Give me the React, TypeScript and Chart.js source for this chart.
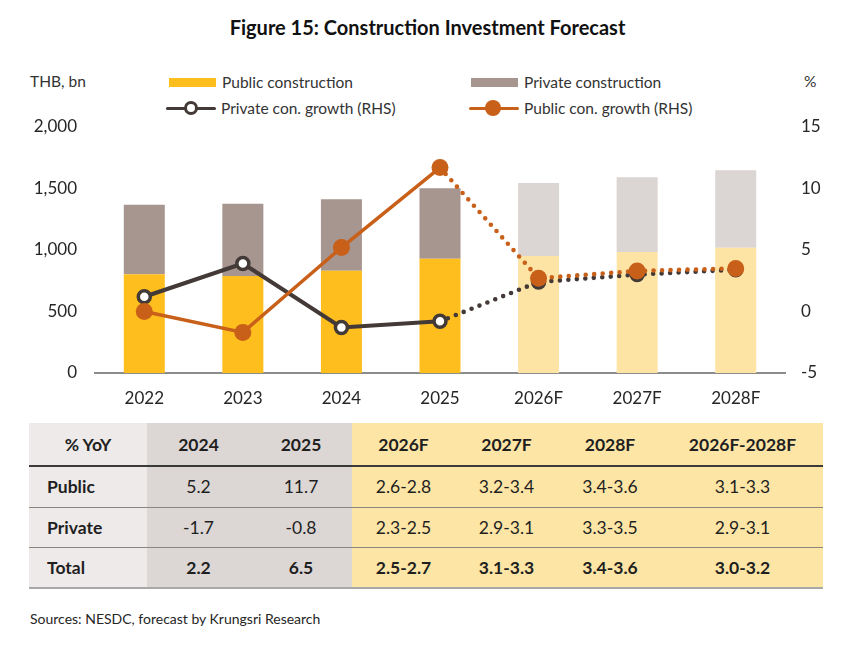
import React, { useEffect, useRef } from "react";
import { Chart, registerables } from "chart.js";

Chart.register(...registerables);

// Categories and series (THB bn for bars, % YoY for lines)
const years = ["2022", "2023", "2024", "2025", "2026F", "2027F", "2028F"];
const publicConstruction = [802, 789, 832, 929, 951, 984, 1019];
const privateConstruction = [566, 587, 580, 573, 594, 607, 629];
const privateGrowth = [1.2, 3.9, -1.3, -0.8, 2.4, 3.0, 3.4];
const publicGrowth = [0.0, -1.7, 5.2, 11.7, 2.7, 3.3, 3.5];
const leftTicks = [0, 500, 1000, 1500, 2000];
const rightTicks = [-5, 0, 5, 10, 15];
const firstForecastIndex = 4;

// Growth table
const tableHeader = ["% YoY", "2024", "2025", "2026F", "2027F", "2028F", "2026F-2028F"];
const tablePublic = ["Public", "5.2", "11.7", "2.6-2.8", "3.2-3.4", "3.4-3.6", "3.1-3.3"];
const tablePrivate = ["Private", "-1.7", "-0.8", "2.3-2.5", "2.9-3.1", "3.3-3.5", "2.9-3.1"];
const tableTotal = ["Total", "2.2", "6.5", "2.5-2.7", "3.1-3.3", "3.4-3.6", "3.0-3.2"];

const FONT = "Lato, 'Open Sans', sans-serif";
const PUBLIC_BAR = "#FDBE1E";
const PUBLIC_BAR_F = "#FDE4A4";
const PRIVATE_BAR = "#A79590";
const PRIVATE_BAR_F = "#DBD5D3";
const ORANGE = "#C8601A";
const DARK = "#433936";

const colWidths = [118, 103, 102, 103, 103, 104, 161];
const colBg = (i: number) => (i === 0 ? "#EEEAE9" : i <= 2 ? "#DCD6D4" : "#FDE5A6");

// Fixed axis widths so the plot area lines up with the table below
const fitVertical = (w: number) => (s: any) => {
  s.width = w;
  s.paddingTop = 0;
  s.paddingBottom = 0;
};

function ChartCanvas() {
  const ref = useRef<HTMLCanvasElement | null>(null);
  useEffect(() => {
    if (!ref.current) return;
    // Segments from 2025 onward are forecasts: drawn as round dots
    const isForecast = (ctx: any) => ctx.p0DataIndex >= firstForecastIndex - 1;
    const dottedDash = (ctx: any) => (isForecast(ctx) ? [0, 8.5] : undefined);
    const dottedWidth = (solid: number) => (ctx: any) => (isForecast(ctx) ? 4.6 : solid);
    const chart = new Chart(ref.current, {
      type: "bar",
      data: {
        labels: years,
        datasets: [
          {
            type: "line",
            label: "Public con. growth (RHS)",
            data: publicGrowth,
            yAxisID: "y1",
            borderColor: ORANGE,
            borderWidth: 3.5,
            borderCapStyle: "round",
            pointRadius: 8.5,
            pointBackgroundColor: ORANGE,
            pointBorderColor: ORANGE,
            pointBorderWidth: 0,
            tension: 0,
            order: 0,
            segment: { borderDash: dottedDash, borderWidth: dottedWidth(3.5) },
          } as any,
          {
            type: "line",
            label: "Private con. growth (RHS)",
            data: privateGrowth,
            yAxisID: "y1",
            borderColor: DARK,
            borderWidth: 4,
            borderCapStyle: "round",
            pointRadius: 6,
            pointBackgroundColor: "#ffffff",
            pointBorderColor: DARK,
            pointBorderWidth: 3.5,
            tension: 0,
            order: 1,
            segment: { borderDash: dottedDash, borderWidth: dottedWidth(4) },
          } as any,
          {
            type: "bar",
            label: "Public construction",
            data: publicConstruction,
            yAxisID: "y",
            backgroundColor: years.map((_, i) => (i >= firstForecastIndex ? PUBLIC_BAR_F : PUBLIC_BAR)),
            barPercentage: 0.416,
            categoryPercentage: 1,
            order: 3,
          },
          {
            type: "bar",
            label: "Private construction",
            data: privateConstruction,
            yAxisID: "y",
            backgroundColor: years.map((_, i) => (i >= firstForecastIndex ? PRIVATE_BAR_F : PRIVATE_BAR)),
            barPercentage: 0.416,
            categoryPercentage: 1,
            order: 3,
          },
        ],
      },
      options: {
        animation: false,
        responsive: false,
        maintainAspectRatio: false,
        layout: { padding: { top: 17, left: 0, right: 0, bottom: 0 } },
        plugins: { legend: { display: false }, tooltip: { enabled: false } },
        scales: {
          x: {
            stacked: true,
            grid: { display: false, drawTicks: false },
            border: { display: true, color: "#8C8C8C", width: 2 },
            ticks: { color: "#262626", font: { family: FONT, size: 17 }, padding: 15 },
            afterFit: (s: any) => {
              s.height = 47;
            },
          },
          y: {
            stacked: true,
            position: "left",
            min: leftTicks[0],
            max: leftTicks[leftTicks.length - 1],
            afterBuildTicks: (s: any) => {
              s.ticks = leftTicks.map((v) => ({ value: v }));
            },
            grid: { display: false, drawTicks: false },
            border: { display: false },
            ticks: {
              color: "#262626",
              font: { family: FONT, size: 17 },
              padding: 18,
              callback: (v: any) => Number(v).toLocaleString("en-US"),
            },
            afterFit: fitVertical(95),
          },
          y1: {
            position: "right",
            min: rightTicks[0],
            max: rightTicks[rightTicks.length - 1],
            afterBuildTicks: (s: any) => {
              s.ticks = rightTicks.map((v) => ({ value: v }));
            },
            grid: { display: false, drawTicks: false },
            border: { display: false },
            ticks: { color: "#262626", font: { family: FONT, size: 17 }, padding: 16 },
            afterFit: fitVertical(70),
          },
        },
      },
    });
    return () => chart.destroy();
  }, []);
  return (
    <canvas
      ref={ref}
      width={855}
      height={310}
      style={{ position: "absolute", left: 0, top: 110, width: 855, height: 310 }}
    />
  );
}

function LegendBox({ x, color, label }: { x: number; color: string; label: string }) {
  return (
    <div style={{ position: "absolute", left: x, top: 72, height: 20, display: "flex", alignItems: "center" }}>
      <div style={{ width: 47, height: 9, background: color, marginRight: 6 }} />
      <span style={{ fontSize: 15.5, color: "#333" }}>{label}</span>
    </div>
  );
}

function LegendLine({ x, color, hollow, label }: { x: number; color: string; hollow: boolean; label: string }) {
  return (
    <div style={{ position: "absolute", left: x, top: 98, height: 20, display: "flex", alignItems: "center" }}>
      <div style={{ position: "relative", width: 50, height: 20, marginRight: 5 }}>
        <div style={{ position: "absolute", left: 0, top: 8.5, width: 50, height: 3.5, background: color, borderRadius: 2 }} />
        <div
          style={{
            position: "absolute",
            left: hollow ? 18 : 16,
            top: hollow ? 3 : 2,
            width: hollow ? 8 : 16,
            height: hollow ? 8 : 16,
            borderRadius: "50%",
            background: hollow ? "#fff" : color,
            border: hollow ? `3.5px solid ${color}` : "none",
          }}
        />
      </div>
      <span style={{ fontSize: 15.5, color: "#333" }}>{label}</span>
    </div>
  );
}

function Row({ cells, bold, height, borderBottom }: { cells: string[]; bold: boolean; height: number; borderBottom: string }) {
  return (
    <div style={{ display: "flex", height, borderBottom }}>
      {cells.map((c, i) => (
        <div
          key={i}
          style={{
            width: colWidths[i],
            background: colBg(i),
            display: "flex",
            alignItems: "center",
            justifyContent: i === 0 && c !== "% YoY" ? "flex-start" : "center",
            paddingLeft: i === 0 && c !== "% YoY" ? 18 : 0,
            boxSizing: "border-box",
            fontWeight: bold || i === 0 ? 700 : 400,
            fontSize: 17.5,
            color: "#1f1f1f",
          }}
        >
          {c}
        </div>
      ))}
    </div>
  );
}

export default function App() {
  return (
    <div
      style={{
        position: "absolute",
        left: 0,
        top: 0,
        width: 855,
        height: 645,
        background: "#fff",
        fontFamily: FONT,
        color: "#262626",
        overflow: "hidden",
      }}
    >
      <div style={{ position: "absolute", left: 0, top: 15, width: 855, textAlign: "center", fontSize: 20, fontWeight: 700, color: "#111" }}>
        Figure 15: Construction Investment Forecast
      </div>
      <div style={{ position: "absolute", left: 30, top: 72, fontSize: 15.5, color: "#333" }}>THB, bn</div>
      <div style={{ position: "absolute", left: 804, top: 72, fontSize: 15.5, color: "#333" }}>%</div>
      <LegendBox x={169} color={PUBLIC_BAR} label="Public construction" />
      <LegendBox x={471} color={PRIVATE_BAR} label="Private construction" />
      <LegendLine x={166} color={DARK} hollow={true} label="Private con. growth (RHS)" />
      <LegendLine x={469} color={ORANGE} hollow={false} label="Public con. growth (RHS)" />
      <ChartCanvas />
      <div style={{ position: "absolute", left: 29, top: 423, width: 794 }}>
        <Row cells={tableHeader} bold={true} height={42} borderBottom="2px solid #3a3a3a" />
        <Row cells={tablePublic} bold={false} height={39.5} borderBottom="1.5px solid #8a8580" />
        <Row cells={tablePrivate} bold={false} height={39.5} borderBottom="1.5px solid #8a8580" />
        <Row cells={tableTotal} bold={true} height={39} borderBottom="2px solid #a8a8a8" />
      </div>
      <div style={{ position: "absolute", left: 30, top: 610, fontSize: 14, color: "#262626" }}>
        Sources: NESDC, forecast by Krungsri Research
      </div>
    </div>
  );
}
